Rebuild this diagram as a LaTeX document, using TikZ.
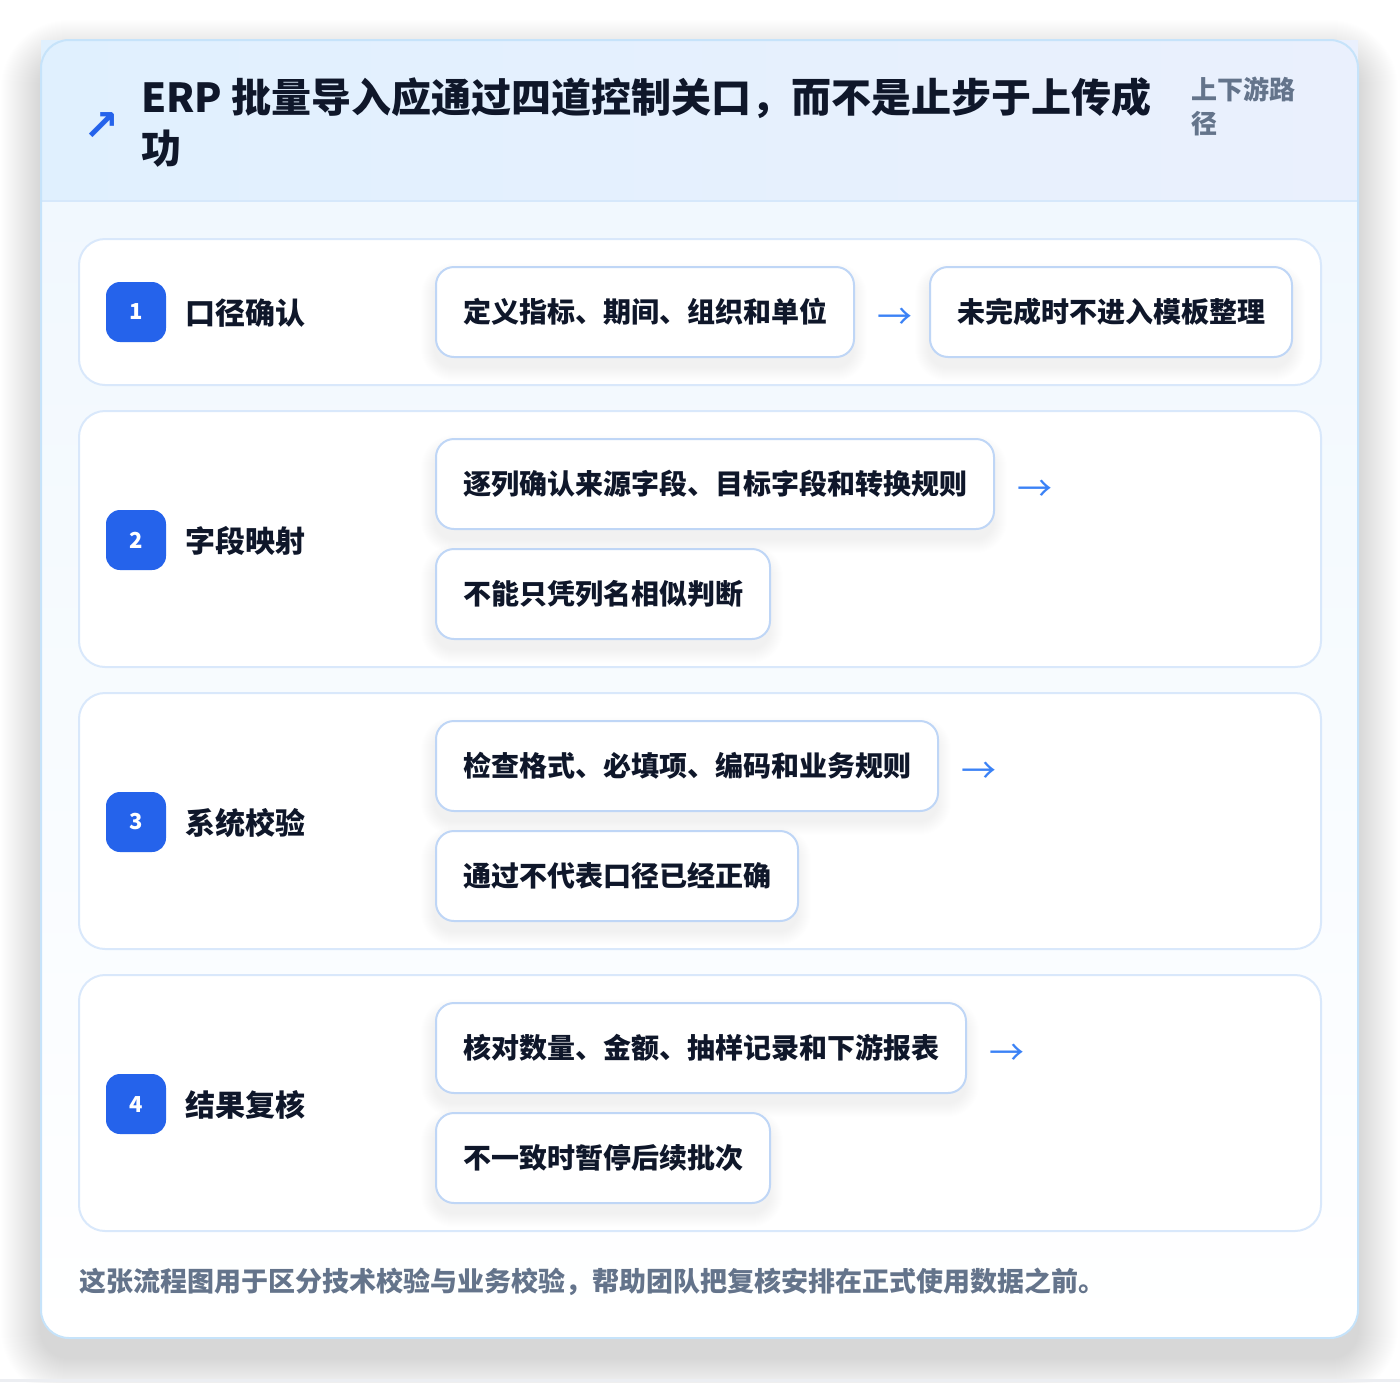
\documentclass[tikz,border=0pt]{standalone}
\usepackage{fontspec}
\setmainfont{Noto Sans CJK SC}
\newfontfamily\symfont{DejaVu Sans}
\usetikzlibrary{positioning}
\definecolor{ink}{HTML}{0F172A}
\definecolor{muted}{HTML}{64748B}
\definecolor{badgeblue}{HTML}{2563EB}
\definecolor{arrowblue}{HTML}{3B82F6}
\definecolor{boxline}{HTML}{BFD6F6}
\definecolor{cardline}{HTML}{D9E8FB}
\definecolor{outerline}{HTML}{C6E3FA}
\definecolor{headL}{HTML}{E0F0FE}
\definecolor{headR}{HTML}{EAF0FD}
\definecolor{bodyT}{HTML}{F1F8FE}
\definecolor{headsep}{HTML}{D6E8FB}
\definecolor{edgegray}{HTML}{ECEEF2}
\begin{document}
\begin{tikzpicture}[x=1pt,y=-1pt,
  badge/.style={fill=badgeblue, text=white, rounded corners=14pt, minimum size=60pt, inner sep=0pt, font=\bfseries\fontsize{22}{22}\selectfont},
  lab/.style={anchor=west, inner sep=0pt, text=ink, font=\bfseries\fontsize{30}{30}\selectfont},
  stepbox/.style={anchor=west, draw=boxline, line width=2pt, fill=white, rounded corners=18pt, minimum height=90pt, inner xsep=27pt, inner ysep=0pt, text=ink, font=\bfseries\fontsize{28}{28}\selectfont},
  arrowglyph/.style={inner sep=0pt, text=arrowblue, font=\fontsize{35}{35}\selectfont},
  title/.style={anchor=west, inner sep=0pt, text=ink, font=\bfseries\fontsize{40}{40}\selectfont},
  tag/.style={anchor=west, inner sep=0pt, text=muted, font=\bfseries\fontsize{26}{26}\selectfont},
  foot/.style={anchor=west, inner sep=0pt, text=muted, font=\bfseries\fontsize{27}{27}\selectfont},
  cardbox/.style={draw=cardline, line width=2pt, fill=white, rounded corners=26pt},
]
\useasboundingbox (0,0) rectangle (1400,1382);
\fill[white] (0,0) rectangle (1400,1382);
% outer shadow
\foreach \i in {1,...,40}
  \fill[black, opacity=0.0022, rounded corners={(28+\i)*1pt}] (41-\i,40-\i+20) rectangle (1358+\i,1338+\i+20);
\fill[edgegray] (0,1379) rectangle (1400,1382);
% outer card
\begin{scope}
  \clip[rounded corners=28pt] (41,40) rectangle (1358,1338);
  \fill[top color=bodyT, bottom color=white] (41,201) rectangle (1358,1338);
\end{scope}
\fill[left color=headL, right color=headR] (41,40) rectangle (1358,201);
\draw[headsep, line width=2pt] (41,201) -- (1358,201);
\draw[outerline, line width=2pt, rounded corners=28pt] (41,40) rectangle (1358,1338);

% header
\node[inner sep=0pt, text=badgeblue, font=\symfont\bfseries\fontsize{43}{43}\selectfont] (icon) at (102,127) {↗};
\node[title] (t1) at (141,98.5) {ERP 批量导入应通过四道控制关口，而不是止步于上传成};
\node[title] (t2) at (141,149) {功};
\node[tag] (g1) at (1191,89.5) {上下游路};
\node[tag] (g2) at (1191,123.5) {径};

% cards
\draw[cardbox] (79,239) rectangle (1321,385);
\draw[cardbox] (79,411) rectangle (1321,667);
\draw[cardbox] (79,693) rectangle (1321,949);
\draw[cardbox] (79,975) rectangle (1321,1231);

% box shadows
\foreach \xa/\xb/\ya in {435/853/267, 929/1291/267, 435/993/439, 435/769/549, 435/937/721, 435/797/831, 435/965/1003, 435/769/1113}{
  \foreach \i in {1,...,14}
    \fill[black, opacity=0.0032, rounded corners={(18+\i)*1pt}] (\xa-\i,\ya-\i+10) rectangle (\xb+\i,\ya+90+\i+10);
}

% stage 1
\node[badge] (b1) at (136,312) {1};
\node[lab] (l1) at (185,313) {口径确认};
\node[stepbox] (s11) at (435,312) {定义指标、期间、组织和单位};
\node[arrowglyph, right=22pt of s11, yshift=-7pt] (a1) {→};
\node[stepbox] (s12) at (929,312) {未完成时不进入模板整理};

% stage 2
\node[badge] (b2) at (136,540) {2};
\node[lab] (l2) at (185,541) {字段映射};
\node[stepbox] (s21) at (435,484) {逐列确认来源字段、目标字段和转换规则};
\node[arrowglyph, right=22pt of s21, yshift=-7pt] (a2) {→};
\node[stepbox] (s22) at (435,594) {不能只凭列名相似判断};

% stage 3
\node[badge] (b3) at (136,822) {3};
\node[lab] (l3) at (185,823) {系统校验};
\node[stepbox] (s31) at (435,766) {检查格式、必填项、编码和业务规则};
\node[arrowglyph, right=22pt of s31, yshift=-7pt] (a3) {→};
\node[stepbox] (s32) at (435,876) {通过不代表口径已经正确};

% stage 4
\node[badge] (b4) at (136,1104) {4};
\node[lab] (l4) at (185,1105) {结果复核};
\node[stepbox] (s41) at (435,1048) {核对数量、金额、抽样记录和下游报表};
\node[arrowglyph, right=22pt of s41, yshift=-7pt] (a4) {→};
\node[stepbox] (s42) at (435,1158) {不一致时暂停后续批次};

% footer
\node[foot] (ft) at (79,1282) {这张流程图用于区分技术校验与业务校验，帮助团队把复核安排在正式使用数据之前。};
\end{tikzpicture}
\end{document}
